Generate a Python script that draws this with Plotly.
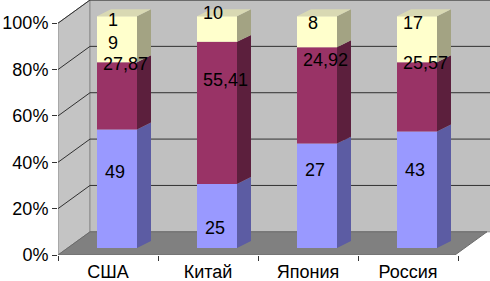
import plotly.graph_objects as go

# ---- data ----
categories = ["США", "Китай", "Япония", "Россия"]
blue_vals = [49, 25, 27, 43]
maroon_vals = [27.87, 55.41, 24.92, 25.57]
yellow_vals = [19, 10, 8, 17]
blue_text = ["49", "25", "27", "43"]
maroon_text = ["27,87", "55,41", "24,92", "25,57"]
yellow_text = ["1<br>9", "10", "8", "17"]
y_tick_vals = [0, 20, 40, 60, 80, 100]
y_tick_text = ["0%", "20%", "40%", "60%", "80%", "100%"]

# label vertical positions (percent, as placed in the picture)
blue_label_pos = [32.8, 8.6, 33.7, 33.7]
maroon_label_pos = [79.4, 72.5, 81.1, 79.8]
yellow_label_pos = [93.2, 101.4, 97, 97]

# ---- 3D geometry (axis units) ----
WX, WY = 0.32, 10      # back-wall depth offset
BX, BY = 0.09, 3       # bar front plane offset
DX, DY = 0.14, 3       # bar depth
BW = 0.40              # bar width
XMIN, XMAX = -0.5, 3.82
FLOOR_R = 3.47

FONT = "Liberation Sans, Arial, sans-serif"
FS = 18

series = [
    dict(vals=blue_vals, front="#9999FF", side="#5C5CA3", top="#7A7AD0",
         text=blue_text, pos=blue_label_pos, xs=-2),
    dict(vals=maroon_vals, front="#993366", side="#5C1F3D", top="#7A2952",
         text=maroon_text, pos=maroon_label_pos, xs=8),
    dict(vals=yellow_vals, front="#FFFFCC", side="#A3A383", top="#D9D9B3",
         text=yellow_text, pos=yellow_label_pos, xs=-4),
]

n = len(categories)
totals = [sum(s["vals"][i] for s in series) for i in range(n)]

fig = go.Figure()
shapes = []

def path(pts, close=True):
    d = "M " + " L ".join(f"{x},{y}" for x, y in pts)
    return d + (" Z" if close else "")

# side wall
shapes.append(dict(type="path", xref="x", yref="y", layer="below",
                   path=path([(XMIN, 0), (XMIN, 100), (XMIN + WX, 100 + WY), (XMIN + WX, WY)]),
                   fillcolor="#C4C4C4", line=dict(color="#8C8C8C", width=1)))
# back wall
shapes.append(dict(type="path", xref="x", yref="y", layer="below",
                   path=path([(XMIN + WX, WY), (XMIN + WX, 100 + WY), (XMAX + 0.05, 100 + WY), (XMAX + 0.05, WY)]),
                   fillcolor="#C0C0C0", line=dict(color="#8C8C8C", width=1)))
# gridlines
for v in y_tick_vals[1:]:
    shapes.append(dict(type="path", xref="x", yref="y", layer="below",
                       path=path([(XMIN, v), (XMIN + WX, v + WY), (XMAX + 0.05, v + WY)], close=False),
                       line=dict(color="#303030", width=1)))
# floor
shapes.append(dict(type="path", xref="x", yref="y", layer="below",
                   path=path([(XMIN, 0), (FLOOR_R, 0), (FLOOR_R + WX, WY), (XMIN + WX, WY)]),
                   fillcolor="#808080", line=dict(color="#6A6A6A", width=1)))

annotations = []
for i in range(n):
    base = 0.0
    x0 = i + BX - BW / 2
    x1 = i + BX + BW / 2
    for k, s in enumerate(series):
        pct = s["vals"][i] / totals[i] * 100
        b0 = base + BY
        b1 = base + pct + BY
        # side face
        fig.add_trace(go.Scatter(
            x=[x1, x1, x1 + DX, x1 + DX, x1], y=[b0, b1, b1 + DY, b0 + DY, b0],
            mode="lines", fill="toself", fillcolor=s["side"], line=dict(width=0),
            hoverinfo="skip", showlegend=False))
        if k == len(series) - 1:
            fig.add_trace(go.Scatter(
                x=[x0, x1, x1 + DX, x0 + DX, x0], y=[b1, b1, b1 + DY, b1 + DY, b1],
                mode="lines", fill="toself", fillcolor=s["top"], line=dict(width=0),
                hoverinfo="skip", showlegend=False))
        base += pct

for k, s in enumerate(series):
    pcts = [s["vals"][i] / totals[i] * 100 for i in range(n)]
    bases = [sum(series[j]["vals"][i] for j in range(k)) / totals[i] * 100 + BY for i in range(n)]
    fig.add_trace(go.Bar(x=[i + BX for i in range(n)], y=pcts, base=bases, width=BW,
                         marker=dict(color=s["front"], line=dict(width=0)),
                         showlegend=False, hoverinfo="skip"))
    for i in range(n):
        annotations.append(dict(x=i + BX, y=s["pos"][i] + BY, xref="x", yref="y",
                                text=s["text"][i], showarrow=False, xshift=s["xs"],
                                font=dict(family=FONT, size=FS, color="black")))

fig.update_layout(
    width=490, height=281,
    margin=dict(l=58, r=0, t=0, b=26, autoexpand=False),
    paper_bgcolor="white", plot_bgcolor="white",
    barmode="overlay",
    shapes=shapes, annotations=annotations,
    font=dict(family=FONT, size=FS, color="black"),
    xaxis=dict(range=[XMIN, XMAX], showgrid=False, zeroline=False, showline=False,
               automargin=False,
               tickvals=list(range(n)), ticktext=categories, ticks="",
               ticklabelstandoff=4,
               minor=dict(tickvals=[i - 0.5 for i in range(n + 1)], ticks="outside",
                          ticklen=5, tickcolor="#333333"),
               tickfont=dict(size=FS), fixedrange=True),
    yaxis=dict(range=[0, 110], showgrid=False, zeroline=False, showline=False,
               automargin=False,
               tickvals=y_tick_vals, ticktext=y_tick_text, ticks="outside",
               ticklen=5, tickcolor="#333333", tickfont=dict(size=FS), fixedrange=True),
)

fig.write_html("out.html", config={"displayModeBar": False},
               post_script="document.body.style.margin='0';document.body.style.padding='0';")
